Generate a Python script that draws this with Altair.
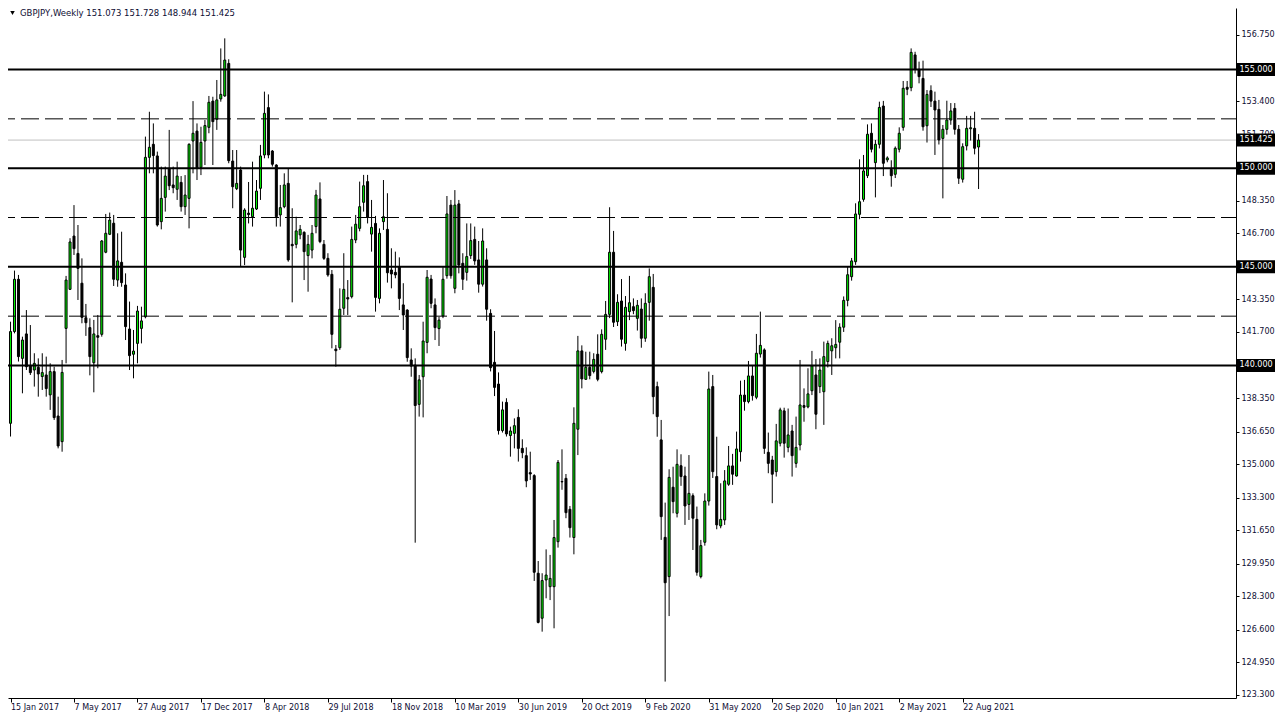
import altair as alt
import pandas as pd

chart_title = "GBPJPY,Weekly  151.073 151.728 148.944 151.425"
start_date = "2017-01-15"

opens = [
    137.07, 141.72, 144.37, 140.36, 141.60, 140.00, 139.77, 139.91, 139.44, 139.52,
    138.51, 139.69, 137.44, 136.14, 141.88, 143.86, 146.56, 145.68, 144.17, 142.42,
    141.92, 140.14, 141.51, 141.58, 145.74, 146.65, 147.21, 144.33, 145.23, 144.08,
    141.85, 140.57, 141.12, 141.88, 142.47, 150.55, 151.21, 150.62, 147.29, 148.52,
    149.99, 149.15, 148.93, 149.28, 148.05, 148.47, 151.38, 151.88, 150.04, 151.38,
    152.07, 153.40, 152.48, 153.51, 153.66, 155.31, 150.36, 148.96, 149.91, 145.48,
    147.72, 147.54, 147.93, 148.98, 150.67, 153.07, 150.87, 150.16, 147.63, 148.05,
    149.23, 146.14, 146.14, 146.62, 146.75, 145.57, 145.85, 147.04, 148.44, 146.14,
    145.43, 144.62, 140.83, 140.90, 142.90, 143.44, 143.49, 146.36, 146.95, 148.27,
    149.32, 146.66, 147.20, 143.40, 147.29, 146.90, 144.84, 144.72, 145.01, 143.07,
    142.81, 140.28, 140.02, 138.03, 139.43, 141.17, 144.38, 143.07, 141.87, 142.51,
    144.55, 148.13, 143.91, 148.19, 145.18, 144.72, 145.57, 146.39, 145.35, 144.12,
    145.35, 142.64, 140.16, 139.06, 136.70, 138.13, 136.45, 136.56, 137.37, 135.80,
    135.43, 134.57, 134.42, 129.47, 127.19, 129.13, 128.79, 128.79, 131.07, 134.12,
    134.28, 132.71, 131.28, 136.77, 140.74, 139.30, 139.91, 139.70, 140.57, 139.69,
    141.33, 142.59, 145.74, 142.22, 143.27, 141.12, 142.73, 142.98, 142.39, 142.86,
    141.38, 143.20, 143.96, 138.93, 136.23, 131.29, 129.30, 133.83, 132.51, 134.92,
    134.40, 132.96, 133.40, 132.20, 129.30, 131.04, 133.13, 138.93, 134.37, 131.87,
    132.17, 133.98, 134.91, 134.40, 135.63, 138.50, 138.17, 139.47, 138.39, 140.58,
    140.79, 135.60, 135.21, 134.62, 136.06, 137.70, 135.85, 136.68, 135.04, 135.97,
    137.97, 137.90, 138.72, 139.52, 138.93, 138.67, 140.20, 140.74, 140.90, 141.18,
    141.94, 143.30, 144.50, 145.26, 147.66, 148.42, 149.62, 151.77, 150.28, 151.21,
    153.15, 150.42, 149.94, 149.69, 150.96, 152.07, 154.10, 154.08, 155.74, 155.01,
    154.55, 152.15, 153.93, 153.40, 152.98, 151.51, 151.97, 152.44, 153.03, 151.97,
    149.44, 151.13, 152.00, 152.02, 151.073,
]

highs = [
    142.22, 144.81, 144.59, 141.46, 142.81, 142.05, 140.62, 140.36, 140.62, 140.45,
    140.11, 139.94, 138.42, 140.28, 144.54, 146.45, 148.13, 147.12, 145.43, 143.12,
    142.39, 142.31, 142.56, 146.36, 147.68, 147.75, 147.63, 146.70, 146.78, 144.67,
    143.24, 141.80, 143.02, 142.98, 151.60, 152.86, 152.27, 150.84, 150.08, 150.08,
    151.94, 150.08, 150.33, 149.60, 149.65, 151.26, 153.40, 152.27, 152.10, 152.44,
    153.66, 153.62, 154.47, 156.07, 156.58, 155.52, 150.92, 150.92, 150.08, 147.97,
    149.30, 150.33, 149.40, 151.18, 153.88, 153.74, 150.92, 150.20, 149.15, 149.74,
    149.99, 147.97, 147.54, 147.12, 146.80, 146.62, 147.12, 148.90, 149.28, 146.36,
    145.69, 144.84, 141.04, 143.91, 145.69, 144.33, 147.04, 147.63, 149.32, 149.66,
    149.66, 148.39, 147.58, 146.95, 149.40, 148.73, 145.94, 145.77, 145.48, 144.17,
    142.85, 140.87, 140.36, 139.52, 142.22, 144.84, 144.59, 143.40, 142.47, 144.98,
    148.59, 148.39, 148.89, 148.39, 145.69, 147.20, 147.20, 147.04, 146.31, 146.95,
    145.94, 142.85, 141.75, 139.65, 138.17, 138.34, 136.90, 137.32, 137.78, 136.26,
    135.85, 135.63, 134.49, 130.09, 129.47, 130.68, 130.40, 132.17, 135.21, 135.75,
    134.50, 132.88, 137.88, 141.50, 141.02, 140.70, 140.70, 140.62, 141.58, 141.83,
    143.27, 148.02, 146.82, 143.61, 144.38, 143.52, 144.54, 143.40, 143.32, 143.40,
    143.66, 144.92, 144.64, 139.18, 137.24, 133.05, 134.74, 134.87, 135.75, 135.50,
    134.87, 135.46, 133.52, 132.85, 131.16, 133.52, 139.69, 139.52, 136.39, 134.03,
    134.70, 135.92, 135.52, 136.65, 139.23, 139.27, 140.23, 140.00, 141.60, 142.73,
    140.87, 136.60, 135.42, 137.04, 137.86, 137.86, 137.82, 136.99, 137.41, 140.28,
    138.84, 139.86, 140.74, 140.33, 140.36, 141.21, 141.26, 141.38, 142.30, 142.14,
    143.50, 145.00, 145.45, 148.22, 150.45, 150.67, 152.22, 152.27, 151.43, 153.37,
    153.41, 150.60, 150.40, 151.10, 152.07, 154.42, 154.42, 156.07, 155.90, 155.40,
    155.45, 153.96, 154.20, 153.88, 153.46, 152.19, 153.42, 153.30, 153.30, 152.19,
    151.26, 152.65, 152.65, 152.86, 151.728,
]

lows = [
    136.40, 141.63, 140.20, 138.59, 139.77, 139.52, 138.93, 138.42, 138.76, 138.42,
    137.75, 137.24, 135.80, 135.63, 140.11, 143.83, 145.60, 143.32, 142.14, 141.50,
    139.50, 138.64, 139.86, 141.46, 145.69, 146.61, 144.03, 143.99, 143.99, 141.29,
    139.77, 139.35, 140.11, 141.12, 142.39, 149.74, 149.74, 147.04, 146.90, 147.80,
    148.89, 148.73, 148.39, 147.80, 147.63, 146.95, 149.74, 149.40, 149.65, 150.16,
    151.77, 150.16, 151.94, 153.37, 153.62, 150.25, 147.97, 148.89, 145.01, 145.09,
    147.20, 147.04, 147.88, 148.39, 150.50, 150.50, 150.08, 147.04, 147.04, 147.97,
    145.26, 143.20, 145.94, 146.40, 144.33, 143.74, 145.43, 146.70, 146.20, 145.35,
    144.50, 140.87, 139.94, 140.79, 142.56, 142.56, 143.40, 146.20, 146.80, 147.80,
    147.20, 145.77, 142.73, 143.15, 146.87, 144.20, 143.91, 144.42, 142.81, 141.80,
    140.19, 139.43, 131.02, 137.41, 137.37, 140.62, 142.90, 141.29, 140.99, 142.40,
    144.40, 144.40, 143.66, 144.67, 143.83, 144.30, 145.40, 145.10, 143.69, 144.00,
    142.27, 139.70, 138.45, 136.50, 136.60, 136.40, 135.38, 135.80, 135.13, 135.30,
    133.83, 134.20, 129.08, 126.93, 126.51, 128.20, 128.11, 126.68, 130.77, 133.70,
    132.26, 131.28, 130.43, 135.46, 138.84, 139.27, 139.30, 139.60, 139.20, 139.60,
    140.79, 142.40, 141.95, 142.00, 140.96, 140.75, 142.30, 142.60, 141.77, 140.90,
    141.20, 142.27, 137.53, 136.39, 131.16, 123.98, 127.30, 132.51, 132.30, 133.90,
    131.92, 132.17, 130.65, 129.35, 129.21, 130.87, 132.90, 134.30, 131.70, 131.75,
    131.92, 133.90, 133.95, 134.37, 135.13, 137.71, 138.08, 138.22, 138.29, 140.40,
    135.52, 134.54, 133.02, 134.37, 135.90, 135.33, 135.60, 134.37, 134.82, 135.70,
    137.15, 137.83, 138.50, 136.77, 138.60, 136.99, 139.90, 139.52, 140.36, 140.36,
    141.70, 143.00, 144.30, 145.10, 147.41, 148.30, 149.50, 150.80, 148.52, 151.00,
    149.60, 150.30, 149.06, 149.50, 150.80, 151.90, 153.70, 153.90, 154.80, 154.30,
    151.90, 151.30, 153.10, 150.67, 151.20, 148.47, 151.70, 152.20, 151.70, 149.20,
    149.27, 150.90, 151.40, 150.70, 148.944,
]

closes = [
    141.72, 144.37, 140.45, 141.29, 139.94, 139.64, 140.11, 139.57, 139.64, 138.83,
    139.69, 137.36, 135.92, 139.65, 144.33, 146.26, 145.92, 144.92, 142.44, 142.17,
    140.45, 141.60, 141.43, 146.31, 146.70, 147.37, 144.37, 145.30, 144.20, 141.97,
    140.50, 140.73, 142.76, 142.26, 150.55, 151.06, 150.64, 147.12, 148.47, 149.60,
    149.11, 149.01, 149.60, 148.05, 148.64, 151.21, 151.77, 149.99, 151.31, 152.16,
    153.34, 152.36, 153.46, 153.74, 155.48, 150.38, 149.06, 149.23, 145.85, 147.88,
    147.65, 147.97, 148.84, 150.62, 152.78, 150.67, 150.20, 147.54, 148.00, 149.15,
    145.35, 146.07, 146.82, 146.90, 145.77, 146.14, 146.70, 148.64, 146.28, 145.43,
    144.59, 141.58, 140.75, 142.85, 143.86, 143.37, 146.39, 147.16, 148.05, 149.11,
    147.51, 147.00, 143.45, 146.70, 147.54, 144.70, 144.64, 144.59, 143.40, 142.56,
    140.40, 139.97, 137.97, 139.27, 141.24, 144.47, 143.15, 141.92, 142.30, 144.37,
    147.68, 144.55, 148.13, 145.09, 144.37, 145.52, 146.33, 145.30, 144.12, 146.31,
    142.85, 139.89, 138.89, 136.70, 137.75, 136.53, 136.68, 136.95, 135.80, 135.58,
    134.15, 134.50, 129.52, 126.98, 129.10, 129.38, 129.21, 131.28, 135.09, 134.10,
    132.54, 131.78, 137.07, 140.74, 139.32, 139.91, 139.49, 140.31, 139.30, 141.58,
    142.59, 145.74, 142.19, 143.20, 141.33, 142.95, 143.18, 142.78, 143.05, 141.38,
    143.15, 144.50, 138.42, 137.41, 132.34, 128.99, 134.33, 133.10, 134.99, 134.37,
    132.88, 133.52, 132.26, 129.52, 130.87, 133.13, 138.81, 134.62, 131.92, 132.20,
    134.15, 134.91, 134.49, 135.77, 138.50, 138.17, 139.47, 138.47, 140.62, 141.02,
    135.80, 135.04, 134.49, 136.18, 137.75, 136.06, 136.48, 135.43, 135.85, 138.00,
    137.88, 138.56, 139.98, 137.53, 139.77, 140.45, 141.12, 141.00, 141.07, 141.94,
    143.30, 144.60, 145.30, 147.68, 148.30, 149.86, 151.72, 150.96, 151.21, 153.08,
    150.25, 150.52, 149.62, 151.01, 151.77, 154.05, 154.00, 155.87, 155.01, 154.64,
    152.10, 153.74, 153.40, 152.95, 151.43, 151.97, 152.44, 152.90, 151.97, 149.49,
    151.09, 152.02, 152.05, 151.01, 151.425,
]

solid_levels = [155.0, 150.0, 145.0, 140.0]
dashed_levels = [152.5, 147.5, 142.5]
last_price = 151.425
y_tick_values = [156.75, 153.4, 151.7, 148.35, 146.7, 143.35, 141.7, 138.35,
                 136.65, 135.0, 133.3, 131.65, 129.95, 128.3, 126.6, 124.95, 123.3]

BULL = "#00F000"
FONT = "DejaVu Sans"
TXT = "#0d0d33"

n = len(opens)
dates = pd.date_range(start_date, periods=n, freq="7D")
df = pd.DataFrame({
    "date": dates.strftime("%Y-%m-%d"),
    "week": list(range(n)),
    "open": opens,
    "high": highs,
    "low": lows,
    "close": closes,
})
df["high"] = df[["open", "high", "close"]].max(axis=1)
df["low"] = df[["open", "low", "close"]].min(axis=1)
df["dir"] = ["up" if c >= o else "down" for o, c in zip(opens, closes)]

date_labels = [f"{d.day} {d.strftime('%b %Y')}" for d in dates[::16]]
label_expr = "[" + ",".join(f"'{s}'" for s in date_labels) + "][round(datum.value / 16)]"

x_scale = alt.Scale(domain=[0.625, 307.625], nice=False, zero=False)
y_scale = alt.Scale(domain=[123.1478, 158.1184], nice=False, zero=False)

x_axis = alt.Axis(
    values=list(range(0, n, 16)), labelExpr=label_expr, title=None, grid=False,
    domain=True, domainColor="black", domainWidth=1, ticks=True, tickColor="black",
    tickSize=4, labelAlign="left", labelBaseline="top", labelPadding=1,
    labelFont=FONT, labelFontSize=8, labelColor=TXT, labelOverlap=False,
    labelFlush=False, labelBound=False,
)
y_axis = alt.Axis(
    orient="right", values=y_tick_values, format=".3f", title=None, grid=False,
    domain=True, domainColor="black", domainWidth=1, tickColor="black", tickSize=3,
    labelPadding=2, labelFont=FONT, labelFontSize=8, labelColor=TXT,
    labelOverlap=False, labelFlush=False, labelAlign="left", labelBaseline="middle",
)


def X(field):
    return alt.X(field, scale=x_scale, axis=x_axis)


def Y(field):
    return alt.Y(field, scale=y_scale, axis=y_axis)


base = alt.Chart(df)

wicks = base.mark_rule(color="black", strokeWidth=1).encode(
    x=X("week:Q"), y=Y("low:Q"), y2="high:Q",
)

bodies = base.mark_bar(size=2, stroke="black", strokeWidth=1).encode(
    x=X("week:Q"), y=Y("open:Q"), y2="close:Q",
    color=alt.Color("dir:N", scale=alt.Scale(domain=["up", "down"], range=[BULL, "black"]), legend=None),
)

price_line = alt.Chart(pd.DataFrame({"level": [last_price]})).mark_rule(
    color="#c0c0c0", strokeWidth=1
).encode(y=Y("level:Q"))

solid = alt.Chart(pd.DataFrame({"level": solid_levels})).mark_rule(
    color="black", strokeWidth=2
).encode(y=Y("level:Q"))

dashed = alt.Chart(pd.DataFrame({"level": dashed_levels})).mark_rule(
    color="black", strokeWidth=1, strokeDash=[18, 6], strokeDashOffset=3
).encode(y=Y("level:Q"))

boxes_df = pd.DataFrame({"level": solid_levels + [last_price]})
box_bg = alt.Chart(boxes_df).mark_rule(color="black", strokeWidth=13).encode(
    x=alt.value(1229), x2=alt.value(1267), y=Y("level:Q"),
)
box_txt = alt.Chart(boxes_df).mark_text(
    align="left", baseline="middle", color="white", font=FONT, fontSize=8
).encode(
    x=alt.value(1231.5), y=Y("level:Q"),
    text=alt.Text("level:Q", format=".3f"),
)

title_txt = alt.Chart(pd.DataFrame({"t": [chart_title]})).mark_text(
    align="left", baseline="middle", font=FONT, fontSize=8.5, color=TXT
).encode(x=alt.value(12), y=alt.value(4.5), text="t:N")

tri = alt.Chart(pd.DataFrame({"s": ["menu"]})).mark_point(
    shape="triangle-down", filled=True, color="black", size=20, opacity=1
).encode(x=alt.value(4.5), y=alt.value(5))

chart = alt.layer(
    price_line, wicks, bodies, solid, dashed, box_bg, box_txt, title_txt, tri
).properties(
    width=1228, height=690,
    autosize=alt.AutoSizeParams(type="none"),
    padding={"left": 0, "top": 0, "right": 39, "bottom": 15},
    background="white",
).configure_view(strokeWidth=0)

chart.save("out.html", embed_options={"renderer": "svg", "actions": False})
